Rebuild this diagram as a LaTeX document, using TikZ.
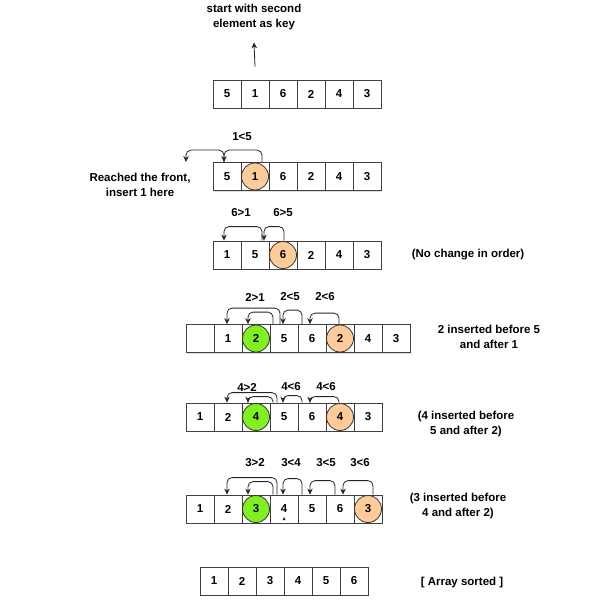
\documentclass[tikz,border=0pt]{standalone}
\usepackage{fontspec}
\setmainfont{Liberation Sans}
\usetikzlibrary{arrows.meta,shadows}
\definecolor{keypeach}{HTML}{FFCC99}
\definecolor{placedgreen}{HTML}{80F020}
\tikzset{
  cell/.style={draw=black!75, fill=white, minimum size=28pt, inner sep=0pt,
    drop shadow={shadow xshift=1.2pt, shadow yshift=-1.2pt, opacity=.25}},
  keyon/.style={circle, draw=black!80, fill=keypeach, minimum size=27pt, inner sep=0pt},
  placed/.style={circle, draw=black!80, fill=placedgreen, minimum size=27pt, inner sep=0pt},
  hop/.style={-{Stealth[length=6pt,width=5.5pt]}, draw=black!85, rounded corners=5pt},
  note/.style={align=center}
}
\begin{document}
\begin{tikzpicture}[x=1pt, y=-1pt, line width=0.8pt,
  every node/.style={font=\fontsize{11.5}{14.5}\selectfont\bfseries}]
\useasboundingbox (0,0) rectangle (601,604);

% first array, key is the second element
\foreach \v [count=\i] in {5,1,6,2,4,3} \node[cell] (a\i) at (199+28*\i, 94) {\v};
\node[note] (keynote) at (254,17) {start with second\\element as key};
\draw[-{Stealth[length=6pt,width=5.5pt]}, draw=black!85] ([yshift=13pt]a2.north) -- ([yshift=-9pt]keynote.south);

% key 1
\foreach \v [count=\i] in {5,{},6,2,4,3} \node[cell] (b\i) at (199+28*\i, 176.5) {\v};
\node[keyon] (bk) at (b2) {1};
\coordinate (front) at (186,162);
\node (b15) at (242,137) {1<5};
\draw[hop] ([xshift=7pt]b2.north) -- ++(0,-12) -| ([xshift=-3pt]b1.north);
\draw[hop] ([xshift=-3pt]b1.north) -- ++(0,-12) -| (front);
\node[note] (frontnote) at (140,185) {Reached the front,\\insert 1 here};

% key 6
\foreach \v [count=\i] in {1,5,{},2,4,3} \node[cell] (c\i) at (199+28*\i, 255) {\v};
\node[keyon] (ck) at (c3) {6};
\node (c61) at (241,213) {6>1};
\node (c65) at (283,213) {6>5};
\draw[hop] ([xshift=1pt]c3.north) -- ++(0,-14) -| ([xshift=9pt]c2.north);
\draw[hop] ([xshift=7pt]c2.north) -- ++(0,-14) -| ([xshift=-3pt]c1.north);
\node[note] (cnote) at (468,255) {(No change in order)};

% key 2
\foreach \v [count=\i] in {{},1,{},5,6,{},4,3} \node[cell] (d\i) at (172+28*\i, 338.5) {\v};
\node[placed] (dp) at (d3) {2};
\node[keyon] (dk) at (d6) {2};
\node (d21) at (255,297) {2>1};
\node (d25) at (290,297) {2<5};
\node (d26) at (325,297) {2<6};
\draw[hop] ([xshift=-1pt]d6.north) -- ++(0,-11) -| ([xshift=-2pt]d5.north);
\draw[hop] ([xshift=-10pt]d5.north) -- ++(0,-14) -| ([xshift=-1pt]d4.north);
\draw[hop] ([xshift=-4pt]d4.north) -- ++(0,-16) -| ([xshift=-1pt]d2.north);
\draw[hop] ([xshift=-11pt]d4.north) -- ++(0,-12) -| ([xshift=-8pt]d3.north);
\node[note] (dnote) at (489,337) {2 inserted before 5\\and after 1};

% key 4
\foreach \v [count=\i] in {1,2,{},5,6,{},3} \node[cell] (e\i) at (172+28*\i, 417) {\v};
\node[placed] (ep) at (e3) {4};
\node[keyon] (ek) at (e6) {4};
\node (e42) at (247,387) {4>2};
\node (e46) at (291,387) {4<6};
\node (e46b) at (326,387) {4<6};
\draw[hop] ([xshift=-1pt]e6.north) -- ++(0,-6) -| ([xshift=-2pt]e5.north);
\draw[hop] ([xshift=-10pt]e5.north) -- ++(0,-7) -| ([xshift=-1pt]e4.north);
\draw[hop] ([xshift=-7pt]e4.north) -- ++(0,-10) -| ([xshift=-1pt]e2.north);
\draw[hop] ([xshift=-11pt]e4.north) -- ++(0,-6) -| ([xshift=-8pt]e3.north);
\node[note] (enote) at (466,424) {(4 inserted before\\5 and after 2)};

% key 3
\foreach \v [count=\i] in {1,2,{},4,5,6,{}} \node[cell] (f\i) at (172+28*\i, 509) {\v};
\node[placed] (fp) at (f3) {3};
\node[keyon] (fk) at (f7) {3};
\fill[black!85] ([shift={(-1.5,11)}]f4.center) -- ++(3,0) -- ++(-1.5,-3) -- cycle;
\node (f32) at (255,463) {3>2};
\node (f34) at (291,463) {3<4};
\node (f35) at (326,463) {3<5};
\node (f36) at (360,463) {3<6};
\draw[hop] ([xshift=5pt]f7.north) -- ++(0,-14) -| ([xshift=3pt]f6.north);
\draw[hop] ([xshift=-5pt]f6.north) -- ++(0,-14) -| ([xshift=-2pt]f5.north);
\draw[hop] ([xshift=-10pt]f5.north) -- ++(0,-16) -| ([xshift=-1pt]f4.north);
\draw[hop] ([xshift=-7pt]f4.north) -- ++(0,-17) -| ([xshift=-1pt]f2.north);
\draw[hop] ([xshift=-11pt]f4.north) -- ++(0,-13) -| ([xshift=-8pt]f3.north);
\node[note] (fnote) at (458,506) {(3 inserted before\\4 and after 2)};

% sorted
\foreach \v [count=\i] in {1,2,3,4,5,6} \node[cell] (g\i) at (186+28*\i, 581) {\v};
\node[note] (gnote) at (462,583) {[ Array sorted ]};
\end{tikzpicture}
\end{document}
